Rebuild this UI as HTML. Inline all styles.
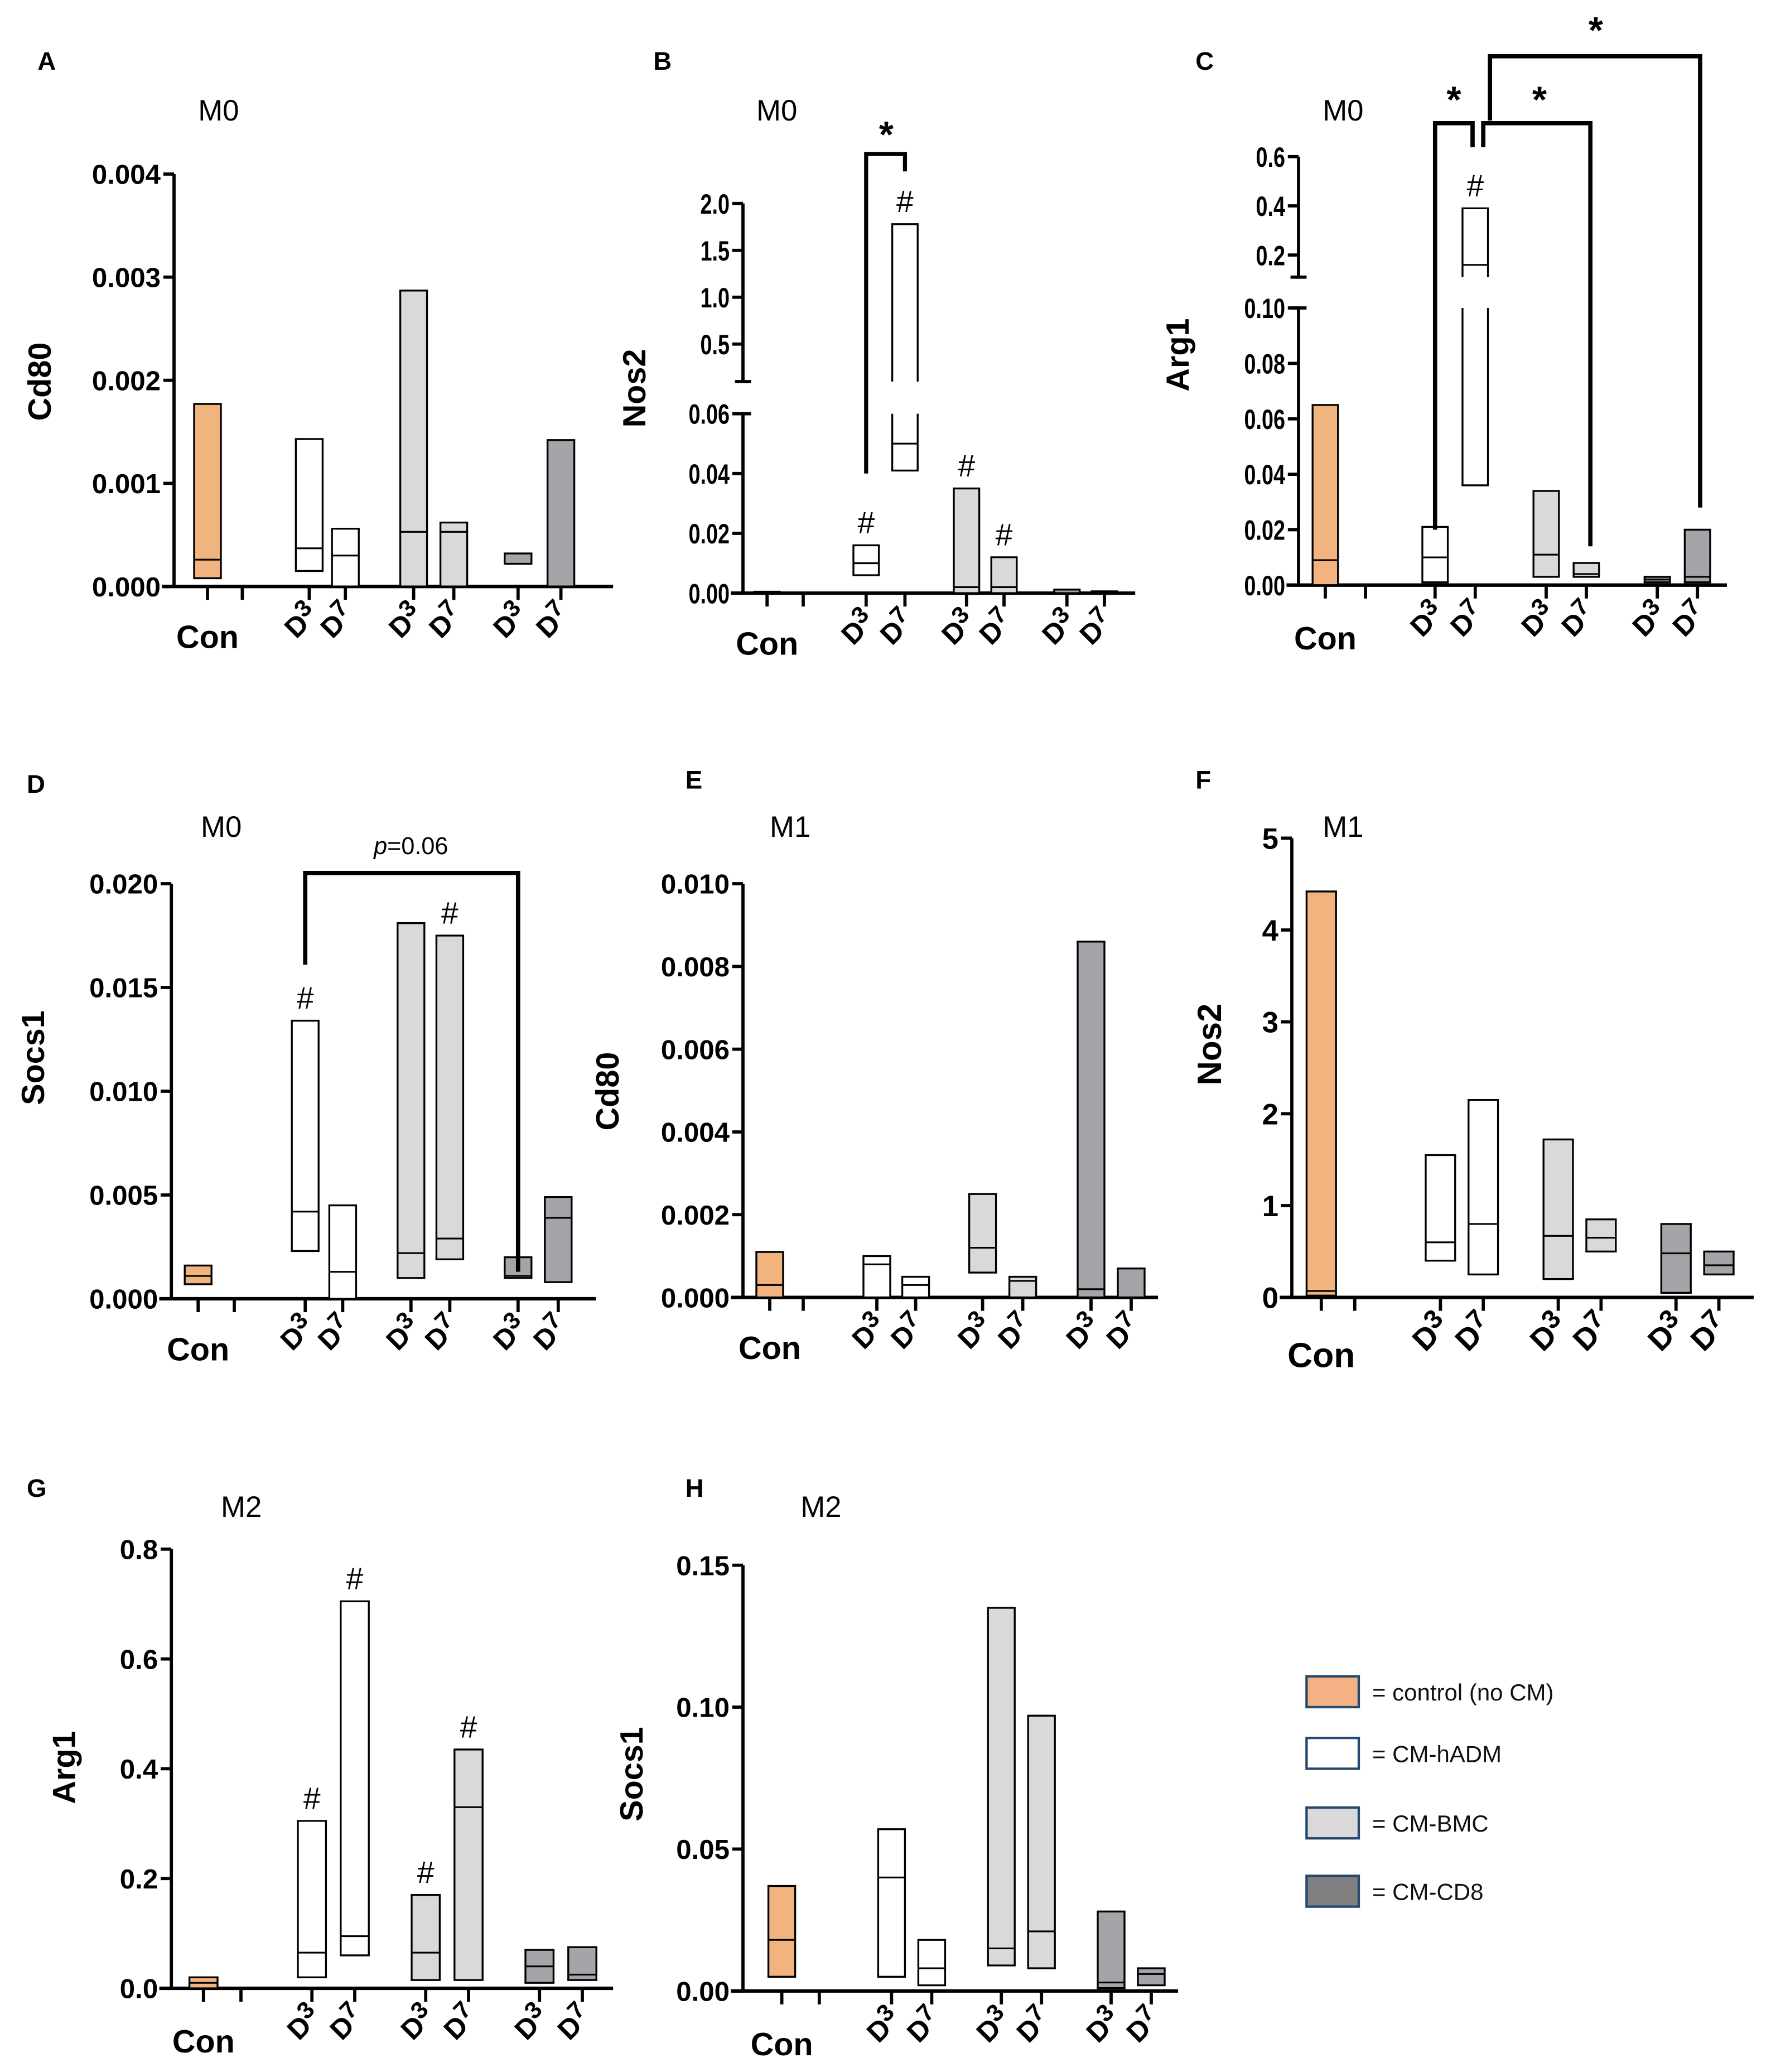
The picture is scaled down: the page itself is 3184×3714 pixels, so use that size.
<!DOCTYPE html>
<html><head><meta charset="utf-8">
<style>html,body{margin:0;padding:0;background:#fff}svg{display:block}</style>
</head><body>
<svg id="fig" xmlns="http://www.w3.org/2000/svg" width="3184" height="3714" viewBox="0 0 1326.67 1547.5" font-family="'Liberation Sans', sans-serif">
<rect width="1326.67" height="1547.5" fill="#fff"/>
<g font-size="17.5" fill="#111">
 <g><rect x="976" y="1252" width="39" height="23" fill="#F4B183" stroke="#264a6e" stroke-width="1.8"/><text x="1025" y="1270">= control (no CM)</text></g>
 <g><rect x="976" y="1298" width="39" height="23" fill="#fff" stroke="#264a6e" stroke-width="1.8"/><text x="1025" y="1316">= CM-hADM</text></g>
 <g><rect x="976" y="1350" width="39" height="23" fill="#d9d9d9" stroke="#264a6e" stroke-width="1.8"/><text x="1025" y="1368">= CM-BMC</text></g>
 <g><rect x="976" y="1401" width="39" height="23" fill="#7f7f7f" stroke="#264a6e" stroke-width="1.8"/><text x="1025" y="1419">= CM-CD8</text></g>
</g>
</svg>
<script>
// ---- data (Con, hADM D3, hADM D7, BMC D3, BMC D7, CD8 D3, CD8 D7) ----
const categories = ['Con','D3','D7','D3','D7','D3','D7'];
const aLow  = [0.00008,0.00015,0,0,0,0.00022,0];
const aMed  = [0.00026,0.00037,0.0003,0.00053,0.00053,0.00022,null];
const aHigh = [0.00177,0.00143,0.00056,0.00287,0.00062,0.00032,0.00142];
const bLow  = [0,0.006,0.041,0,0,0,0];
const bMed  = [null,0.01,0.05,0.002,0.002,null,null];
const bHigh = [0.0005,0.016,1.78,0.035,0.012,0.0012,0.0006];
const cLow  = [0,0.001,0.036,0.003,0.003,0.001,0.001];
const cMed  = [0.009,0.01,0.16,0.011,0.004,0.002,0.003];
const cHigh = [0.065,0.021,0.39,0.034,0.008,0.003,0.02];
const dLow  = [0.0007,0.0023,0,0.0010,0.0019,0.0010,0.0008];
const dMed  = [0.0011,0.0042,0.0013,0.0022,0.0029,0.0011,0.0039];
const dHigh = [0.0016,0.0134,0.0045,0.0181,0.0175,0.0020,0.0049];
const eLow  = [0,0,0,0.0006,0,0,0];
const eMed  = [0.0003,0.0008,0.0003,0.0012,0.0004,0.0002,null];
const eHigh = [0.0011,0.0010,0.0005,0.0025,0.0005,0.0086,0.0007];
const fLow  = [0.02,0.4,0.25,0.2,0.5,0.05,0.25];
const fMed  = [0.07,0.6,0.8,0.67,0.65,0.48,0.35];
const fHigh = [4.42,1.55,2.15,1.72,0.85,0.8,0.5];
const gLow  = [0,0.02,0.06,0.015,0.015,0.01,0.015];
const gMed  = [0.01,0.065,0.095,0.065,0.33,0.04,0.025];
const gHigh = [0.02,0.305,0.705,0.17,0.435,0.07,0.075];
const hLow  = [0.005,0.005,0.002,0.009,0.008,0.001,0.002];
const hMed  = [0.018,0.04,0.008,0.015,0.021,0.003,0.006];
const hHigh = [0.037,0.057,0.018,0.135,0.097,0.028,0.008];
const tickA = ['0.000','0.001','0.002','0.003','0.004'];
const tickBlo = ['0.00','0.02','0.04','0.06'];
const tickBhi = ['0.5','1.0','1.5','2.0'];
const tickClo = ['0.00','0.02','0.04','0.06','0.08','0.10'];
const tickChi = ['0.2','0.4','0.6'];
const tickD = ['0.000','0.005','0.010','0.015','0.020'];
const tickE = ['0.000','0.002','0.004','0.006','0.008','0.010'];
const tickF = ['0','1','2','3','4','5'];
const tickG = ['0.0','0.2','0.4','0.6','0.8'];
const tickH = ['0.00','0.05','0.10','0.15'];

const fills = ['#F2B47E','#ffffff','#ffffff','#d9d9d9','#d9d9d9','#a4a4a9','#a4a4a9'];
const NS = 'http://www.w3.org/2000/svg';
const svg = document.getElementById('fig');
function mk(tag, attrs, parent){ const e=document.createElementNS(NS,tag); for(const k in attrs) e.setAttribute(k,attrs[k]); (parent||svg).appendChild(e); return e; }
const AW = 2.4;

function panel(cfg){
  const g = mk('g',{});
  
  
  const segs = cfg.segs;
  function ymap(v){
    for(const s of segs){ if(v>=s.v0-1e-12 && v<=s.v1+1e-12) return s.y0+(v-s.v0)/(s.v1-s.v0)*(s.y1-s.y0); }
    const s=segs[segs.length-1]; return s.y0+(v-s.v0)/(s.v1-s.v0)*(s.y1-s.y0);
  }
  cfg.ymap = ymap;
  const ax = cfg.ax, y0 = segs[0].y0;
  const tfs = cfg.tfs||20.5;
  segs.forEach((s,si)=>{
    const l = mk('line',{x1:ax,x2:ax,y1:s.y0+(si===0?1:0),y2:s.y1,stroke:'#000','stroke-width':AW},g);
    
    
    if(segs.length>1){
      if(si>0) mk('line',{x1:ax-6,x2:ax+6,y1:s.y0,y2:s.y0,stroke:'#000','stroke-width':AW},g);
      if(si<segs.length-1) mk('line',{x1:ax-6,x2:ax+6,y1:s.y1,y2:s.y1,stroke:'#000','stroke-width':AW},g);
    }
    s.ticks.forEach((lab,i)=>{
      const v = s.tv[i]; const y = ymap(v);
      mk('line',{x1:ax-8,x2:ax,y1:y,y2:y,stroke:'#000','stroke-width':AW},g);
      const t = mk('text',{x:ax-10,y:y+tfs*0.36,'text-anchor':'end','font-weight':'bold','font-size':tfs},g);
      if(cfg.cond) t.setAttribute('transform',`translate(${ax-10} 0) scale(0.75 1) translate(${-(ax-10)} 0)`);
      
      
      t.textContent = lab;
    });
  });
  const xa = mk('line',{x1:ax-9,x2:cfg.axEnd,y1:y0,y2:y0,stroke:'#000','stroke-width':AW+0.2},g);
  
  
  cfg.xs.forEach(x=>mk('line',{x1:x,x2:x,y1:y0,y2:y0+10,stroke:'#000','stroke-width':AW},g));
  const barX = [cfg.xs[0]].concat(cfg.xs.slice(2));
  const bw = cfg.bw||20;
  for(let i=0;i<7;i++){
    const lo=cfg.low[i], hi=cfg.high[i], md=cfg.med[i], cx=barX[i];
    const bg = mk('g',{},g);
    
    
    segs.forEach((s,si)=>{
      const a=Math.max(lo,s.v0), b=Math.min(hi,s.v1);
      if(b<a) return;
      const ya=ymap(a), yb=ymap(b);
      const x1=cx-bw/2, x2=cx+bw/2;
      mk('rect',{x:x1,y:yb,width:bw,height:Math.max(ya-yb,0.6),fill:fills[i]},bg);
      const st={stroke:'#000','stroke-width':1.4};
      mk('line',Object.assign({x1:x1,x2:x1,y1:ya,y2:yb},st),bg);
      mk('line',Object.assign({x1:x2,x2:x2,y1:ya,y2:yb},st),bg);
      if(a===lo) mk('line',Object.assign({x1:x1-0.7,x2:x2+0.7,y1:ya,y2:ya},st),bg);
      if(b===hi) mk('line',Object.assign({x1:x1-0.7,x2:x2+0.7,y1:yb,y2:yb},st),bg);
    });
    if(md!==null){ const ym=ymap(md); mk('line',{x1:cx-bw/2,x2:cx+bw/2,y1:ym,y2:ym,stroke:'#000','stroke-width':1.3},bg); }
  }
  (cfg.hash||[]).forEach(i=>{
    const t=mk('text',{x:barX[i],y:ymap(cfg.high[i])-9,'text-anchor':'middle','font-size':23},g);
    
    
    t.textContent='#';
  });
  const cfs = cfg.cfs||24;
  const cl = mk('text',{x:cfg.xs[0],y:y0+cfg.conDy,'text-anchor':'middle','font-weight':'bold','font-size':cfs},g);
  
  
  cl.textContent='Con';
  const dfs = cfg.dfs||21;
  for(let i=1;i<7;i++){
    const x=barX[i]+8, y=y0+22;
    const t=mk('text',{x:x,y:y,'text-anchor':'end','font-weight':'bold','font-size':dfs,transform:`rotate(-45 ${x} ${y})`},g);
    
    
    t.innerHTML = 'D<tspan dy="-7" font-size="'+(dfs*0.85)+'">'+categories[i].slice(1)+'</tspan>';
  }
  const yfs = cfg.yfs||24;
  const yt = mk('text',{x:cfg.yt[0],y:cfg.yt[1],'text-anchor':'middle','font-weight':'bold','font-size':yfs,transform:`rotate(-90 ${cfg.yt[0]} ${cfg.yt[1]})`},g);
  
  
  yt.textContent=cfg.ytitle;
  const pl = mk('text',{x:cfg.letter[0],y:cfg.letter[1],'font-weight':'bold','font-size':19},g);
  
  
  pl.textContent=cfg.name.slice(-1).toUpperCase();
  const mt = mk('text',{x:cfg.mt[0],y:cfg.mt[1],'font-size':22},g);
  
  
  mt.textContent=cfg.mtitle;
  return cfg;
}
function bracket(g, pts, sw, name){
  const p = mk('polyline',{points:pts.map(p=>p.join(',')).join(' '),fill:'none',stroke:'#000','stroke-width':sw},g);
  
  
}
function star(x,y,txt,name,fs,italic){
  const t=mk('text',{x:x,y:y,'text-anchor':'middle','font-size':fs||28,'font-weight':'bold'});
  
  
  if(italic){ t.setAttribute('font-weight','normal'); t.innerHTML='<tspan font-style="italic">p</tspan>=0.06'; } else t.textContent=txt;
}
const lin = (arr,v0,step)=>arr.map((_,i)=>v0+i*step);

const A = panel({name:'panel-a',ax:130,axEnd:458,xs:[155,181,231,258,309,339,387,419],
  segs:[{v0:0,v1:0.004,y0:438,y1:130,ticks:tickA,tv:lin(tickA,0,0.001)}],
  low:aLow,med:aMed,high:aHigh,conDy:46,yt:[38,285],ytitle:'Cd80',letter:[28,52],mt:[148,90],mtitle:'M0'});
const B = panel({name:'panel-b',ax:555,axEnd:848,xs:[573,600,647,676,722,750,797,825],bw:19,cond:true,tfs:21,
  segs:[{v0:0,v1:0.06,y0:443,y1:309,ticks:tickBlo,tv:lin(tickBlo,0,0.02)},
        {v0:0.1,v1:2.0,y0:285,y1:152,ticks:tickBhi,tv:lin(tickBhi,0.5,0.5)}],
  low:bLow,med:bMed,high:bHigh,hash:[1,2,3,4],conDy:46,yt:[482,290],ytitle:'Nos2',letter:[488,52],mt:[565,90],mtitle:'M0'});
const C = panel({name:'panel-c',ax:970,axEnd:1290,xs:[990,1020,1072,1102,1155,1185,1238,1268],bw:19,cond:true,tfs:21,
  segs:[{v0:0,v1:0.10,y0:437,y1:230,ticks:tickClo,tv:lin(tickClo,0,0.02)},
        {v0:0.11,v1:0.6,y0:207,y1:117,ticks:tickChi,tv:lin(tickChi,0.2,0.2)}],
  low:cLow,med:cMed,high:cHigh,hash:[2],conDy:48,yt:[888,265],ytitle:'Arg1',letter:[893,52],mt:[988,90],mtitle:'M0'});
const D = panel({name:'panel-d',ax:128,axEnd:445,xs:[148,175,228,256,307,336,387,417],
  segs:[{v0:0,v1:0.020,y0:970,y1:660,ticks:tickD,tv:lin(tickD,0,0.005)}],
  low:dLow,med:dMed,high:dHigh,hash:[1,4],conDy:46,yt:[33,790],ytitle:'Socs1',letter:[20,592],mt:[150,625],mtitle:'M0'});
const E = panel({name:'panel-e',ax:555,axEnd:865,xs:[575,600,655,684,734,764,815,845],
  segs:[{v0:0,v1:0.010,y0:969,y1:660,ticks:tickE,tv:lin(tickE,0,0.002)}],
  low:eLow,med:eMed,high:eHigh,conDy:46,yt:[462,815],ytitle:'Cd80',letter:[512,589],mt:[575,625],mtitle:'M1'});
const F = panel({name:'panel-f',ax:965,axEnd:1310,xs:[987,1012,1076,1108,1164,1196,1252,1284],bw:22,tfs:22,cfs:26,dfs:23,yfs:25,
  segs:[{v0:0,v1:5,y0:969,y1:626,ticks:tickF,tv:lin(tickF,0,1)}],
  low:fLow,med:fMed,high:fHigh,conDy:52,yt:[912,780],ytitle:'Nos2',letter:[893,589],mt:[988,625],mtitle:'M1'});
const G = panel({name:'panel-g',ax:128,axEnd:458,xs:[152,180,233,265,318,350,403,435],bw:21,
  segs:[{v0:0,v1:0.8,y0:1485,y1:1157,ticks:tickG,tv:lin(tickG,0,0.2)}],
  low:gLow,med:gMed,high:gHigh,hash:[1,2,3,4],conDy:48,yt:[56,1320],ytitle:'Arg1',letter:[20,1118],mt:[165,1133],mtitle:'M2'});
const H = panel({name:'panel-h',ax:555,axEnd:880,xs:[584,612,666,696,748,778,830,860],
  segs:[{v0:0,v1:0.15,y0:1487,y1:1169,ticks:tickH,tv:lin(tickH,0,0.05)}],
  low:hLow,med:hMed,high:hHigh,conDy:48,yt:[480,1325],ytitle:'Socs1',letter:[512,1118],mt:[598,1133],mtitle:'M2'});

bracket(svg, [[647,B.ymap(0.04)],[647,115],[676,115],[676,128]], 3, 'bracket-b');
star(662,110,'*','star-b');
bracket(svg, [[1072,C.ymap(0.02)],[1072,92],[1100,92],[1100,110]], 3.2, 'bracket-c1');
star(1086,84,'*','star-c1');
bracket(svg, [[1108,110],[1108,92],[1188,92],[1188,C.ymap(0.014)]], 3.2, 'bracket-c2');
star(1150,84,'*','star-c2');
bracket(svg, [[1113,90],[1113,42],[1270,42],[1270,C.ymap(0.028)]], 3.2, 'bracket-c3');
star(1192,32,'*','star-c3');
bracket(svg, [[228,D.ymap(0.0161)],[228,652],[387,652],[387,D.ymap(0.0013)]], 3.2, 'bracket-d');
star(307,638,'','p-value-d',18,true);
</script>
</body></html>
